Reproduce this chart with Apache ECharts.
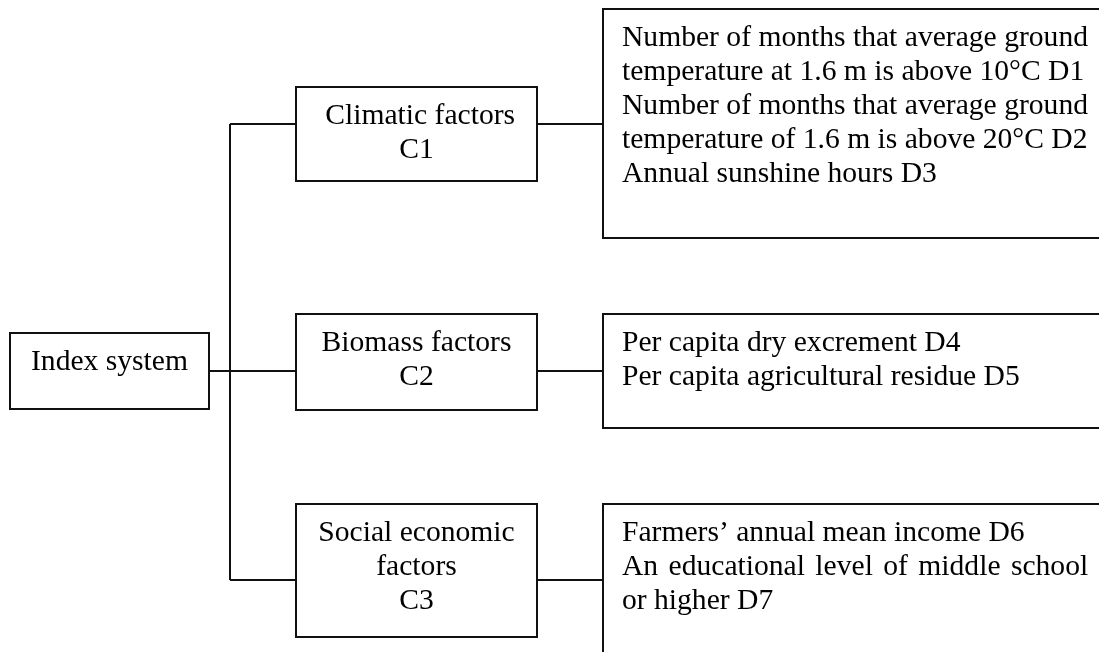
<!DOCTYPE html>
<html>
<head>
<meta charset="utf-8">
<title>Index system</title>
<script src="https://cdn.jsdelivr.net/npm/echarts@6/dist/echarts.min.js"></script>
<style>
  html, body { margin: 0; padding: 0; background: #fff; }
  #main { width: 1099px; height: 652px; }
</style>
</head>
<body>
<div id="main"></div>
<script>
// root box, in diagram units [left, top, right, bottom]
const indexName = 'Index system'
const indexBox = [10, 333, 209, 409]

// second level (C) boxes
const factorNames = [' Climatic factors\nC1', 'Biomass factors\nC2', 'Social economic\nfactors\nC3']
const factorTop = [87, 314, 504]
const factorBottom = [181, 410, 637]
const factorLeft = 296
const factorRight = 537

// third level (D) boxes
const indicatorTexts = [
  'Number of months that average ground\ntemperature at 1.6 m is above 10°C D1\nNumber of months that average ground\ntemperature of 1.6 m is above 20°C D2\nAnnual sunshine hours D3',
  'Per capita dry excrement D4\nPer capita agricultural residue D5',
  'Farmers\u2019 annual mean income D6\nAn{g| }educational{g| }level{g| }of{g| }middle{g| }school\nor higher D7'
]
const indicatorTop = [9, 314, 504]
const indicatorBottom = [238, 428, 670]
const indicatorLeft = 603
const indicatorRight = 1115

// connectors
const trunkX = 230
const branchY = [124, 371, 580]
const rootY = 371

const FONT = '29.6px "Liberation Serif", "Times New Roman", serif'

let boxData = []
boxData.push([indexBox[0], indexBox[1], indexBox[2], indexBox[3], indexName, 'center'])
for (let i = 0; i < factorNames.length; i++) {
  boxData.push([factorLeft, factorTop[i], factorRight, factorBottom[i], factorNames[i], 'center'])
}
for (let i = 0; i < indicatorTexts.length; i++) {
  boxData.push([indicatorLeft, indicatorTop[i], indicatorRight, indicatorBottom[i], indicatorTexts[i], 'left'])
}

let lineData = []
lineData.push({ coords: [[trunkX, branchY[0]], [trunkX, branchY[branchY.length - 1]]] })
lineData.push({ coords: [[indexBox[2], rootY], [trunkX, rootY]] })
for (let i = 0; i < branchY.length; i++) {
  lineData.push({ coords: [[trunkX, branchY[i]], [factorLeft, branchY[i]]] })
  lineData.push({ coords: [[factorRight, branchY[i]], [indicatorLeft, branchY[i]]] })
}

function renderBox(params, api) {
  let p0 = api.coord([api.value(0), api.value(1)])
  let p1 = api.coord([api.value(2), api.value(3)])
  let text = boxData[params.dataIndex][4]
  let align = boxData[params.dataIndex][5]
  let tx = align === 'center' ? (p0[0] + p1[0]) / 2 : p0[0] + 19
  return {
    type: 'group',
    children: [{
      type: 'rect',
      shape: { x: p0[0], y: p0[1], width: p1[0] - p0[0], height: p1[1] - p0[1] },
      style: { fill: '#fff', stroke: '#111', lineWidth: 2 }
    }, {
      type: 'text',
      style: {
        text: text,
        x: tx,
        y: p0[1] + 12,
        font: FONT,
        fill: '#000',
        align: align,
        verticalAlign: 'top',
        lineHeight: 34,
        rich: {
          g: { width: 10.4, font: FONT, lineHeight: 34 }
        }
      }
    }]
  }
}

let myChart = echarts.init(document.getElementById('main'))
myChart.setOption({
  backgroundColor: '#fff',
  animation: false,
  grid: { left: 0, right: 0, top: 0, bottom: 0 },
  xAxis: { type: 'value', min: 0, max: 1099, show: false },
  yAxis: { type: 'value', min: 0, max: 652, inverse: true, show: false },
  series: [{
    type: 'lines',
    coordinateSystem: 'cartesian2d',
    polyline: true,
    silent: true,
    lineStyle: { color: '#111', width: 2, opacity: 1 },
    data: lineData,
    z: 1
  }, {
    type: 'custom',
    renderItem: renderBox,
    encode: { x: [0, 2], y: [1, 3] },
    clip: false,
    silent: true,
    data: boxData,
    z: 2
  }]
})
</script>
</body>
</html>
